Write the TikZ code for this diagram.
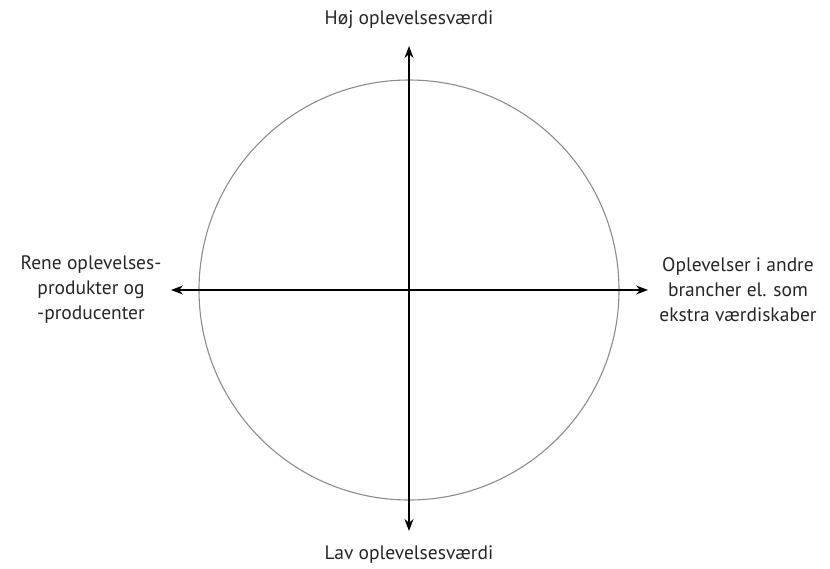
\documentclass[tikz,border=0pt]{standalone}
\usepackage{fontspec}
\setmainfont{PT Sans}
\usetikzlibrary{arrows.meta}
\begin{document}
\begin{tikzpicture}[x=1pt,y=-1pt,
  axis/.style={line width=1.3pt,black,{Stealth[length=12pt,width=9pt]}-{Stealth[length=12pt,width=9pt]}},
  lbl/.style={font=\fontsize{19.5}{25}\selectfont,text=black!85,align=center,inner sep=0pt}]
\useasboundingbox (0,0) rectangle (830,568);
\coordinate (c) at (409,290);
\draw[black!45,line width=1.1pt] (c) circle (210);
\coordinate (top) at (409,46);
\coordinate (bot) at (409,531);
\coordinate (lft) at (171,290);
\coordinate (rgt) at (648,290);
\draw[axis] (bot) -- (top);
\draw[axis] (lft) -- (rgt);
\node[lbl] (hoj) at (409,20) {Høj oplevelsesværdi};
\node[lbl] (lav) at (409,555) {Lav oplevelsesværdi};
\node[lbl] (rene) at (91,290) {Rene oplevelses-\\produkter og\\-producenter};
\node[lbl] (ople) at (738,290) {Oplevelser i andre\\brancher el. som\\ekstra værdiskaber};
\end{tikzpicture}
\end{document}
